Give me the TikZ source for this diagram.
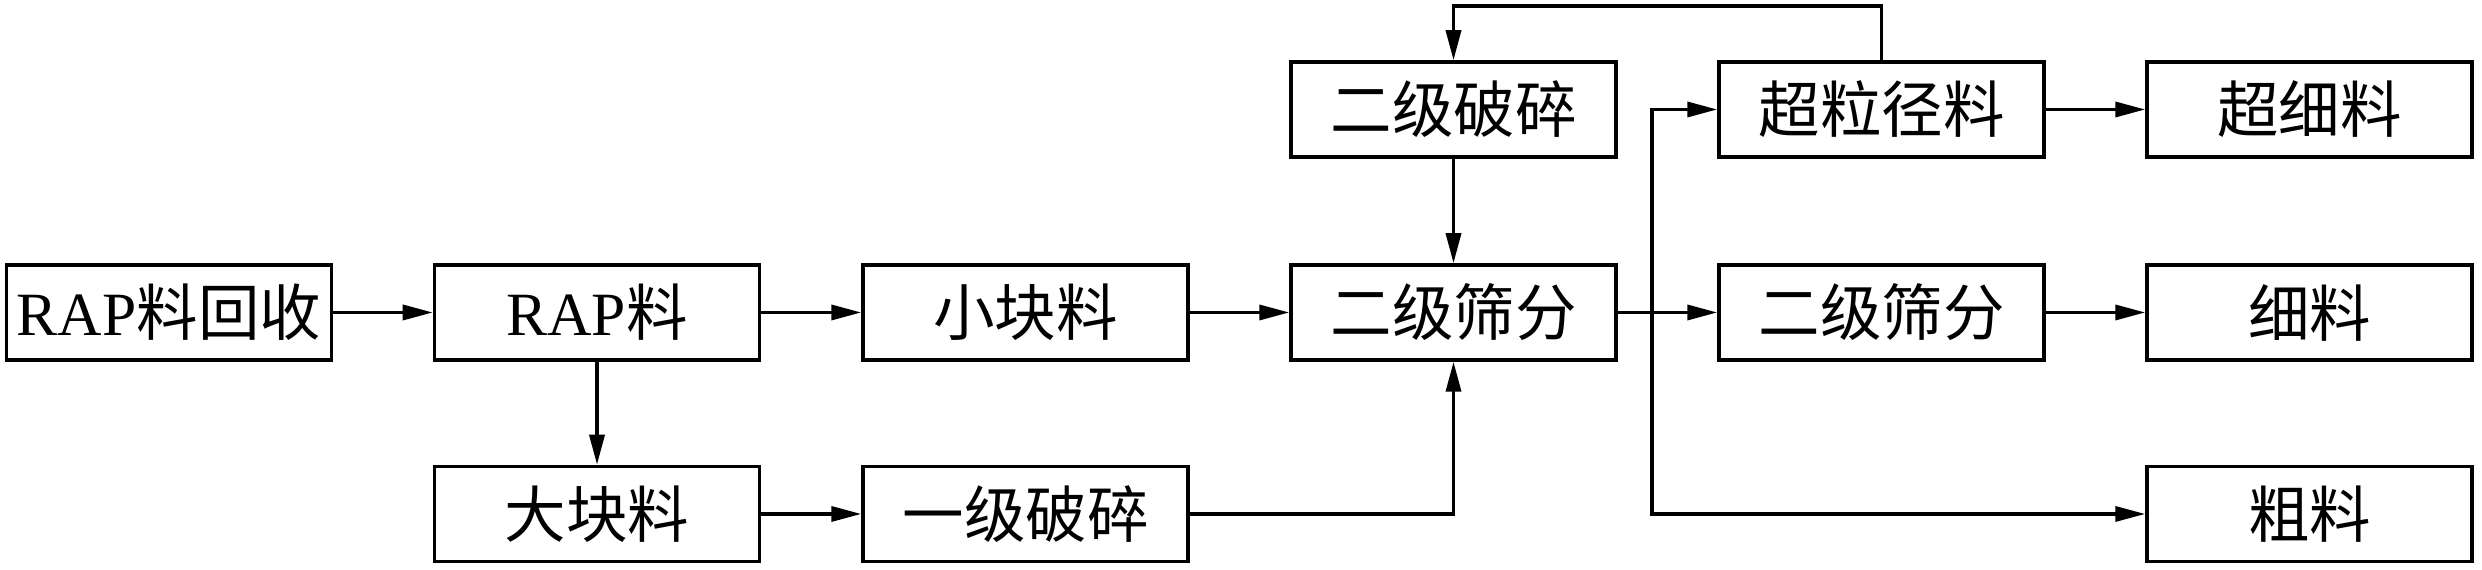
\documentclass[tikz,border=0pt]{standalone}
\usepackage{fontspec}
\setmainfont{Liberation Serif}
\newfontfamily\cjk{Noto Sans CJK SC}
\usetikzlibrary{arrows.meta}

\begin{document}
\begin{tikzpicture}
    [
        line width=1pt,
        box_style/.style={rectangle, draw=black, minimum width=3.25cm, minimum height=0.95cm,
            inner sep=0pt, font=\fontsize{17.5}{20}\selectfont},
        arrow_style/.style={draw=black, -{Triangle[length=3mm, width=1.5mm]}},
        line_style/.style={draw=black}
    ]
        \useasboundingbox (0,0) rectangle (24.82,5.7);

        \node[box_style] (recv) at (1.69,2.575) {RAP{\cjk 料回收}};
        \node[box_style] (rap) at (5.97,2.575) {RAP{\cjk 料}};
        \node[box_style] (big) at (5.97,0.56) {\cjk 大块料};
        \node[box_style] (small) at (10.255,2.575) {\cjk 小块料};
        \node[box_style] (crush1) at (10.255,0.56) {\cjk 一级破碎};
        \node[box_style] (crush2) at (14.535,4.605) {\cjk 二级破碎};
        \node[box_style] (screen2) at (14.535,2.575) {\cjk 二级筛分};
        \node[box_style] (oversize) at (18.815,4.605) {\cjk 超粒径料};
        \node[box_style] (screen2b) at (18.815,2.575) {\cjk 二级筛分};
        \node[box_style] (ultrafine) at (23.095,4.605) {\cjk 超细料};
        \node[box_style] (fine) at (23.095,2.575) {\cjk 细料};
        \node[box_style] (coarse) at (23.095,0.56) {\cjk 粗料};

        \coordinate (split) at (16.52,2.575);
        \coordinate (looptop) at (18.815,5.64);

        \draw[arrow_style] (recv) -- (rap);
        \draw[arrow_style] (rap) -- (small);
        \draw[arrow_style] (rap) -- (big);
        \draw[arrow_style] (big) -- (crush1);
        \draw[arrow_style] (small) -- (screen2);
        \draw[arrow_style] (crush1.east) -| (screen2.south);
        \draw[arrow_style] (crush2) -- (screen2);
        \draw[arrow_style] (screen2) -- (screen2b);
        \draw[arrow_style] (split) |- (oversize.west);
        \draw[arrow_style] (split) |- (coarse.west);
        \draw[arrow_style] (oversize.north) -- (looptop) -| (crush2.north);
        \draw[arrow_style] (oversize) -- (ultrafine);
        \draw[arrow_style] (screen2b) -- (fine);
    \end{tikzpicture}
\end{document}
